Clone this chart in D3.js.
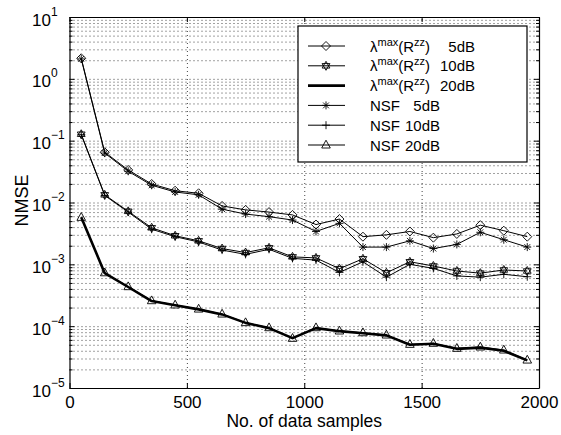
<!DOCTYPE html>
<html>
<head>
<meta charset="utf-8">
<script src="https://cdn.jsdelivr.net/npm/d3@7"></script>
<style>
  body { margin: 0; background: #fff; }
  text { font-family: "Liberation Sans", Arial, Helvetica, sans-serif; }
</style>
</head>
<body>
<div id="chart-container"></div>
<script>
// data
const samples = [50, 150, 250, 350, 450, 550, 650, 750, 850, 950, 1050, 1150, 1250, 1350, 1450, 1550, 1650, 1750, 1850, 1950];

const lam5  = [2.15, 0.065, 0.0336, 0.0199, 0.0155, 0.0141, 0.0088, 0.0076, 0.0070, 0.0063, 0.0044, 0.0054, 0.0028, 0.0030, 0.0034, 0.0027, 0.0031, 0.0043, 0.0035, 0.0028];
const lam10 = [0.127, 0.0133, 0.0072, 0.0039, 0.0029, 0.0024, 0.0018, 0.00155, 0.00185, 0.00132, 0.00127, 0.00085, 0.00123, 0.00073, 0.0011, 0.00094, 0.00078, 0.00072, 0.00081, 0.00078];
const lam20 = [0.0058, 0.00072, 0.00043, 0.000255, 0.000218, 0.000187, 0.000155, 0.000113, 0.000093, 0.000064, 0.000093, 0.000083, 0.000077, 0.000071, 0.000050, 0.000052, 0.000043, 0.000045, 0.000040, 0.000028];
const nsf5  = [2.1, 0.063, 0.032, 0.019, 0.0148, 0.0133, 0.0078, 0.0065, 0.0059, 0.0052, 0.0034, 0.0046, 0.0019, 0.0019, 0.0024, 0.0018, 0.0021, 0.0033, 0.0025, 0.0019];
const nsf10 = [0.125, 0.013, 0.0070, 0.0037, 0.0028, 0.0023, 0.0017, 0.00145, 0.00175, 0.00125, 0.00117, 0.00074, 0.0011, 0.00062, 0.0010, 0.00086, 0.00065, 0.00062, 0.00069, 0.00063];
const nsf20 = [0.00575, 0.00073, 0.000435, 0.000258, 0.00022, 0.000189, 0.000157, 0.000114, 0.0000944, 0.0000635, 0.0000944, 0.0000835, 0.0000783, 0.0000719, 0.0000508, 0.0000528, 0.0000438, 0.000046, 0.0000411, 0.0000283];

const xTicks = [0, 500, 1000, 1500, 2000];
const yExponents = [1, 0, -1, -2, -3, -4, -5];

const xLabel = "No. of data samples";
const yLabel = "NMSE";

// chart size
const W = 561, H = 435;
const margin = {top: 17, right: 22, bottom: 47, left: 69.5};
const width = W - margin.left - margin.right;
const height = H - margin.top - margin.bottom;

const x = d3.scaleLinear().domain([0, 2000]).range([0, width]);
const y = d3.scaleLog().domain([1e-5, 1e1]).range([height, 0]);

const svg = d3.select("#chart-container")
    .append("svg")
        .attr("width", W)
        .attr("height", H)
    .append("g")
        .attr("transform", `translate(${margin.left},${margin.top})`);

// minor log values
const minors = [];
yExponents.forEach(e => {
    if (e === 1) return;
    for (let k = 2; k <= 9; k++) minors.push(k * Math.pow(10, e));
});
const majors = yExponents.map(e => Math.pow(10, e));

// grid
const grid = svg.append("g").attr("class", "grid");
grid.append("g")
    .call(d3.axisLeft(y).tickValues(majors.concat(minors)).tickSize(-width).tickFormat(""))
    .call(g => g.select(".domain").remove());
grid.append("g")
    .attr("transform", `translate(0,${height})`)
    .call(d3.axisBottom(x).tickValues([500, 1000, 1500]).tickSize(-height).tickFormat(""))
    .call(g => g.select(".domain").remove());
grid.selectAll("line")
    .attr("stroke", "#444")
    .attr("stroke-width", 1)
    .attr("stroke-dasharray", "1 3");

// series
const series = [
    {name: "lam5",  values: lam5,  marker: "diamond", lw: 1},
    {name: "lam10", values: lam10, marker: "hexagram", lw: 1},
    {name: "lam20", values: lam20, marker: "none", lw: 2.6},
    {name: "nsf5",  values: nsf5,  marker: "asterisk", lw: 1},
    {name: "nsf10", values: nsf10, marker: "plus", lw: 1},
    {name: "nsf20", values: nsf20, marker: "triangle", lw: 1}
];

function markerPath(type) {
    if (type === "diamond") return "M0,-4.5L4.5,0L0,4.5L-4.5,0Z";
    if (type === "triangle") return "M0,-4.8L4.3,3L-4.3,3Z";
    if (type === "plus") return "M-4,0H4M0,-4V4";
    if (type === "asterisk") return "M-4,0H4M0,-4V4M-2.9,-2.9L2.9,2.9M-2.9,2.9L2.9,-2.9";
    if (type === "hexagram") {
        const r = 4.5;
        const t1 = [0, 1, 2].map(i => { const a = -Math.PI / 2 + i * 2 * Math.PI / 3; return [r * Math.cos(a), r * Math.sin(a)]; });
        const t2 = [0, 1, 2].map(i => { const a = Math.PI / 2 + i * 2 * Math.PI / 3; return [r * Math.cos(a), r * Math.sin(a)]; });
        return "M" + t1.join("L") + "Z" + "M" + t2.join("L") + "Z";
    }
    return "";
}

const line = d3.line()
    .x((d, i) => x(samples[i]))
    .y(d => y(d));

series.forEach(s => {
    svg.append("path")
        .datum(s.values)
        .attr("fill", "none")
        .attr("stroke", "#000")
        .attr("stroke-width", s.lw)
        .attr("stroke-linejoin", "round")
        .attr("d", line);
    if (s.marker !== "none") {
        svg.append("g").selectAll("path")
            .data(s.values)
            .join("path")
            .attr("transform", (d, i) => `translate(${x(samples[i])},${y(d)})`)
            .attr("d", markerPath(s.marker))
            .attr("fill", "none")
            .attr("stroke", "#000")
            .attr("stroke-width", 0.9);
    }
});

// axes (ticks inside, box on all sides)
const axisStyle = g => {
    g.selectAll("line").attr("stroke", "#000");
    g.select(".domain").attr("stroke", "#000").attr("stroke-width", 1.2);
};

const xAxis = svg.append("g")
    .attr("transform", `translate(0,${height})`)
    .call(d3.axisBottom(x).tickValues(xTicks).tickSizeInner(-5).tickSizeOuter(0).tickFormat(""))
    .call(axisStyle);
xAxis.selectAll(".tick").append("text")
    .attr("y", 20)
    .attr("text-anchor", "middle")
    .attr("fill", "#000")
    .style("font-size", "17px")
    .text(d => d);

svg.append("g")
    .call(d3.axisTop(x).tickValues(xTicks).tickSizeInner(-5).tickSizeOuter(0).tickFormat(""))
    .call(axisStyle);

const yAxis = svg.append("g")
    .call(d3.axisLeft(y).tickValues(majors).tickSizeInner(-5).tickSizeOuter(0).tickFormat(""))
    .call(axisStyle);
svg.append("g")
    .call(d3.axisLeft(y).tickValues(minors).tickSizeInner(-3).tickSizeOuter(0).tickFormat(""))
    .call(axisStyle)
    .call(g => g.select(".domain").remove());

svg.append("g")
    .attr("transform", `translate(${width},0)`)
    .call(d3.axisRight(y).tickValues(majors).tickSizeInner(-5).tickSizeOuter(0).tickFormat(""))
    .call(axisStyle);
svg.append("g")
    .attr("transform", `translate(${width},0)`)
    .call(d3.axisRight(y).tickValues(minors).tickSizeInner(-3).tickSizeOuter(0).tickFormat(""))
    .call(axisStyle)
    .call(g => g.select(".domain").remove());

// y tick labels 10^n
yAxis.selectAll(".tick").each(function(d) {
    const e = Math.round(Math.log10(d));
    const t = d3.select(this).append("text")
        .attr("x", 32 - margin.left)
        .attr("y", 8)
        .attr("text-anchor", "start")
        .attr("fill", "#000")
        .style("font-size", "17px");
    t.append("tspan").text("10");
    t.append("tspan")
        .attr("dy", -10)
        .style("font-size", "12px")
        .text(e < 0 ? "\u2212" + (-e) : String(e));
});

// axis labels
svg.append("text")
    .attr("x", width / 2)
    .attr("y", height + 39)
    .attr("text-anchor", "middle")
    .style("font-size", "17.5px")
    .text(xLabel);

svg.append("text")
    .attr("transform", "rotate(-90)")
    .attr("x", -height / 2 + 2)
    .attr("y", 28 - margin.left)
    .attr("text-anchor", "middle")
    .style("font-size", "18px")
    .text(yLabel);

// legend
const legendItems = [
    {marker: "diamond", lw: 1, lam: true, db: "5dB"},
    {marker: "hexagram", lw: 1, lam: true, db: "10dB"},
    {marker: "none", lw: 2.6, lam: true, db: "20dB"},
    {marker: "asterisk", lw: 1, lam: false, db: "5dB"},
    {marker: "plus", lw: 1, lam: false, db: "10dB"},
    {marker: "triangle", lw: 1, lam: false, db: "20dB"}
];

const lx = 298 - margin.left, ly = 26 - margin.top;
const legend = svg.append("g").attr("transform", `translate(${lx},${ly})`);
legend.append("rect")
    .attr("width", 229)
    .attr("height", 136)
    .attr("fill", "#fff")
    .attr("stroke", "#000")
    .attr("stroke-width", 1.2);

legendItems.forEach((it, i) => {
    const cy = 20 + i * 19.8;
    const row = legend.append("g").attr("transform", `translate(0,${cy})`);
    row.append("line")
        .attr("x1", 10).attr("x2", 47)
        .attr("stroke", "#000")
        .attr("stroke-width", it.lw);
    if (it.marker !== "none") {
        row.append("path")
            .attr("transform", "translate(28,0)")
            .attr("d", markerPath(it.marker))
            .attr("fill", "none")
            .attr("stroke", "#000")
            .attr("stroke-width", 0.9);
    }
    const t = row.append("text")
        .attr("x", 72)
        .attr("y", 5.5)
        .style("font-size", "15px");
    if (it.lam) {
        t.append("tspan").text("\u03bb");
        t.append("tspan").attr("dy", -6).style("font-size", "11px").text("max");
        t.append("tspan").attr("dy", 6).text("(R");
        t.append("tspan").attr("dy", -6).style("font-size", "11px").text("zz");
        t.append("tspan").attr("dy", 6).text(")");
    } else {
        t.append("tspan").text("NSF");
    }
    row.append("text")
        .attr("x", it.lam ? 177 : 142)
        .attr("y", 5.5)
        .attr("text-anchor", "end")
        .style("font-size", "15px")
        .text(it.db);
});
</script>
</body>
</html>
